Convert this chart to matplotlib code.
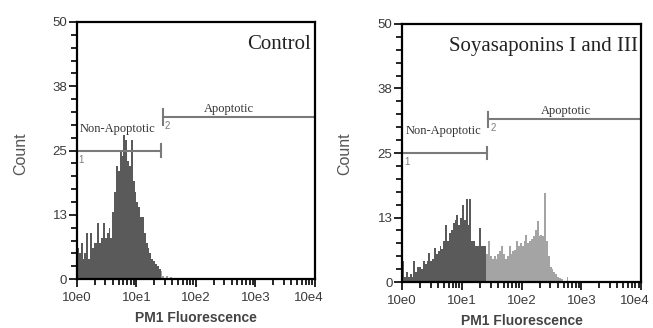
import numpy as np
import matplotlib
matplotlib.use('Agg')
import matplotlib.pyplot as plt
import matplotlib.transforms as mtransforms
from matplotlib.ticker import FixedLocator, LogLocator, MultipleLocator

# histogram counts, 32 channels per decade starting at 10e0
control = [6, 5, 7, 4, 5, 9, 4, 9, 6, 7, 7, 11, 7, 8, 11, 8, 9, 10, 8, 13,
           17, 22, 21, 25, 24, 28, 27, 23, 22, 27, 19, 17, 15, 14, 12, 12,
           9, 7, 6, 5, 4, 3.5, 3, 2.5, 2, 1.5, 0.7, 0.3, 0.6, 0, 0.5]
soya = [4, 1, 2, 1, 1.5, 1, 4, 2, 3, 3, 2.5, 4, 3.5, 4, 5.7, 4, 4.5, 6.6,
        5.5, 6, 7, 6.5, 8, 11, 8, 9.5, 10, 11.5, 12, 13, 11, 12.5, 15, 12,
        16, 11, 16, 8, 8, 7, 7, 10.5, 7, 7, 7, 5.4, 8, 5, 4.4, 5, 4.5, 5.5,
        6, 7, 5.5, 4.5, 5, 7, 5.5, 6, 6.3, 8, 7, 7.5, 7, 8, 9.2, 7.6, 8,
        8.3, 9, 10, 11.8, 9, 9.2, 9, 17.3, 8, 5, 3, 2.5, 2, 1.5, 1, 0.8,
        0.5, 0, 0, 1, 0]
channels_per_decade = 32
gate_split = 45  # first channel of the apoptotic gate

yticks = [0, 12.5, 25, 37.5, 50]
ytick_labels = ['0', '13', '25', '38', '50']
xticks = [1, 10, 100, 1000, 10000]
xtick_labels = ['10e0', '10e1', '10e2', '10e3', '10e4']

panels = [
    # title, data, axes rect, x of "Apoptotic"
    ('Control', control, [0.118, 0.149, 0.364, 0.784], 357),
    ('Soyasaponins I and III', soya, [0.616, 0.140, 0.366, 0.787], 550),
]

dark = '#5a5a5a'
light = '#a4a4a4'
gate_col = '#7a7a7a'
sans = 'Liberation Sans'
serif = 'Liberation Serif'

fig = plt.figure(figsize=(6.53, 3.28), dpi=100)

for title, counts, rect, apo_x in panels:
    ax = fig.add_axes(rect)
    counts = np.array(counts, dtype=float)
    edges = 10 ** (np.arange(len(counts) + 1) / channels_per_decade)
    ax.stairs(counts[:gate_split], edges[:gate_split + 1], fill=True,
              color=dark, lw=0)
    ax.stairs(counts[gate_split:], edges[gate_split:], fill=True,
              color=light, lw=0)

    ax.set_xscale('log')
    ax.set_xlim(1, 10000)
    ax.set_ylim(0, 50)

    ax.xaxis.set_major_locator(FixedLocator(xticks))
    ax.set_xticklabels(xtick_labels)
    ax.xaxis.set_minor_locator(LogLocator(base=10, subs=np.arange(2, 10)))
    ax.xaxis.set_minor_formatter(plt.NullFormatter())
    ax.set_yticks(yticks)
    ax.set_yticklabels(ytick_labels)
    ax.yaxis.set_minor_locator(MultipleLocator(2.5))

    ax.tick_params(which='major', length=6, width=1.2, color='black',
                   labelcolor='#3a3a3a', labelsize=9.5, pad=1)
    ax.tick_params(axis='x', which='major', pad=3)
    ax.tick_params(which='minor', length=4, width=1.2, color='black')
    for lab in ax.get_xticklabels() + ax.get_yticklabels():
        lab.set_fontfamily(sans)
    # keep the last x label inside the figure
    last = ax.get_xticklabels()[-1]
    last.set_transform(last.get_transform() +
                       mtransforms.ScaledTranslation(-6 / 100, 0, fig.dpi_scale_trans))
    for sp in ax.spines.values():
        sp.set_linewidth(1.6)

    ax.set_xlabel('PM1 Fluorescence', fontfamily=sans, fontweight='bold',
                  fontsize=10, color='#444444', labelpad=5)

    # gates
    ax.plot([1, 26], [25, 25], color=gate_col, lw=1.5)
    ax.plot([26, 26], [23.8, 26.2], color=gate_col, lw=1.5)
    ax.plot([27.5, 10000], [31.5, 31.5], color=gate_col, lw=1.5)
    ax.plot([27.5, 27.5], [30.0, 33.0], color=gate_col, lw=1.5)
    ax.text(1.07, 24.2, '1', fontfamily=sans, fontsize=7, color=gate_col,
            va='top', ha='left')
    ax.text(29.5, 30.8, '2', fontfamily=sans, fontsize=7, color=gate_col,
            va='top', ha='left')
    ax.text(1.12, 28.6, 'Non-Apoptotic', fontfamily=serif, fontsize=9,
            color='#333333', va='baseline', ha='left')
    ax.text(apo_x, 32.5, 'Apoptotic', fontfamily=serif, fontsize=9,
            color='#333333', va='baseline', ha='center')

    ax.text(0.985, 0.895, title, transform=ax.transAxes, fontfamily=serif,
            fontsize=15, color='#222222', ha='right', va='baseline')

fig.text(0.032, 0.53, 'Count', rotation=90, fontfamily=sans, fontsize=11.5,
         color='#555555', ha='center', va='center')
fig.text(0.528, 0.53, 'Count', rotation=90, fontfamily=sans, fontsize=11.5,
         color='#555555', ha='center', va='center')

fig.savefig('out.png', dpi=100)
